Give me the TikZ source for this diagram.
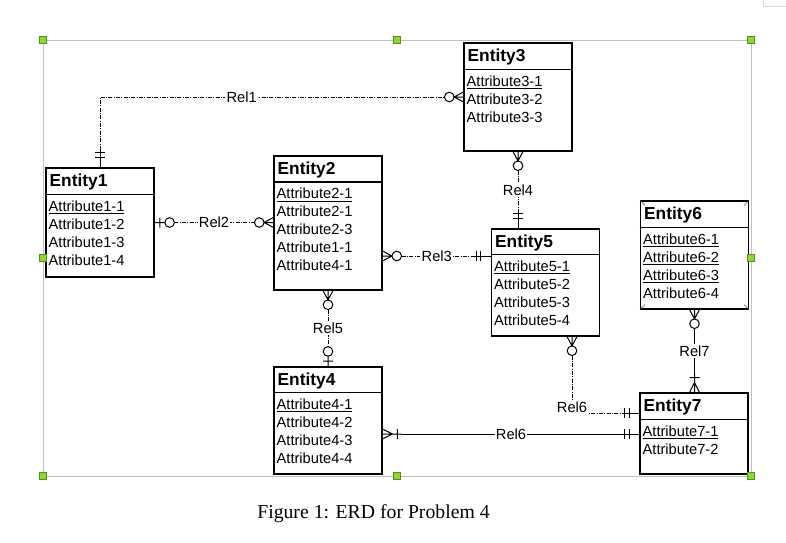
\documentclass[tikz,border=0pt]{standalone}
\usepackage{fontspec}
\setmainfont{Liberation Serif}
\setsansfont{Liberation Sans}
\usetikzlibrary{positioning,calc}
\definecolor{framegray}{RGB}{192,192,192}
\definecolor{handlefill}{RGB}{140,214,60}
\definecolor{handledraw}{RGB}{80,150,20}

% crow's foot end marks
\pgfdeclarearrow{
  name = zeromany,
  setup code = {
    \pgfarrowssettipend{0pt}
    \pgfarrowssetlineend{-14.2pt}
    \pgfarrowssetbackend{-14.2pt}
    \pgfarrowssetvisualbackend{-14.2pt}
    \pgfarrowsupperhullpoint{0pt}{3.75pt}
    \pgfarrowsupperhullpoint{-14.2pt}{3.6pt}
  },
  drawing code = {
    \pgfsetdash{}{0pt}\pgfsetroundjoin
    \pgfpathmoveto{\pgfqpoint{0pt}{3.75pt}}
    \pgfpathlineto{\pgfqpoint{-7pt}{0pt}}
    \pgfpathlineto{\pgfqpoint{0pt}{-3.75pt}}
    \pgfpathmoveto{\pgfqpoint{0pt}{0pt}}
    \pgfpathlineto{\pgfqpoint{-7pt}{0pt}}
    \pgfpathcircle{\pgfqpoint{-10.6pt}{0pt}}{3.6pt}
    \pgfusepathqstroke
  }
}
\pgfdeclarearrow{
  name = zeroone,
  setup code = {
    \pgfarrowssettipend{0pt}
    \pgfarrowssetlineend{-14.85pt}
    \pgfarrowssetbackend{-14.85pt}
    \pgfarrowssetvisualbackend{-14.85pt}
    \pgfarrowsupperhullpoint{0pt}{3.75pt}
    \pgfarrowsupperhullpoint{-14.85pt}{3.6pt}
  },
  drawing code = {
    \pgfsetdash{}{0pt}
    \pgfpathmoveto{\pgfqpoint{-4pt}{3.75pt}}
    \pgfpathlineto{\pgfqpoint{-4pt}{-3.75pt}}
    \pgfpathmoveto{\pgfqpoint{0pt}{0pt}}
    \pgfpathlineto{\pgfqpoint{-7.65pt}{0pt}}
    \pgfpathcircle{\pgfqpoint{-11.25pt}{0pt}}{3.6pt}
    \pgfusepathqstroke
  }
}
\pgfdeclarearrow{
  name = onlyone,
  setup code = {
    \pgfarrowssettipend{0pt}
    \pgfarrowssetlineend{-13pt}
    \pgfarrowssetbackend{-13pt}
    \pgfarrowssetvisualbackend{-13pt}
    \pgfarrowsupperhullpoint{0pt}{3.75pt}
    \pgfarrowsupperhullpoint{-13pt}{3.75pt}
  },
  drawing code = {
    \pgfsetdash{}{0pt}
    \pgfpathmoveto{\pgfqpoint{-7.5pt}{3.75pt}}
    \pgfpathlineto{\pgfqpoint{-7.5pt}{-3.75pt}}
    \pgfpathmoveto{\pgfqpoint{-10.9pt}{3.75pt}}
    \pgfpathlineto{\pgfqpoint{-10.9pt}{-3.75pt}}
    \pgfpathmoveto{\pgfqpoint{0pt}{0pt}}
    \pgfpathlineto{\pgfqpoint{-13pt}{0pt}}
    \pgfusepathqstroke
  }
}
\pgfdeclarearrow{
  name = onemany,
  setup code = {
    \pgfarrowssettipend{0pt}
    \pgfarrowssetlineend{-14pt}
    \pgfarrowssetbackend{-14pt}
    \pgfarrowssetvisualbackend{-14pt}
    \pgfarrowsupperhullpoint{0pt}{3.75pt}
    \pgfarrowsupperhullpoint{-14pt}{3.75pt}
  },
  drawing code = {
    \pgfsetdash{}{0pt}\pgfsetroundjoin
    \pgfpathmoveto{\pgfqpoint{0pt}{3.75pt}}
    \pgfpathlineto{\pgfqpoint{-7.5pt}{0pt}}
    \pgfpathlineto{\pgfqpoint{0pt}{-3.75pt}}
    \pgfpathmoveto{\pgfqpoint{-11pt}{3.75pt}}
    \pgfpathlineto{\pgfqpoint{-11pt}{-3.75pt}}
    \pgfpathmoveto{\pgfqpoint{0pt}{0pt}}
    \pgfpathlineto{\pgfqpoint{-14pt}{0pt}}
    \pgfusepathqstroke
  }
}

\tikzset{
  entbox/.style={draw, line width=0.9pt, minimum width=81pt, inner sep=0pt},
  headline/.style={line width=0.9pt},
  enttitle/.style={anchor=base west, inner sep=0pt, font=\sffamily\bfseries\fontsize{13}{15}\selectfont},
  entattr/.style={anchor=base west, inner sep=0pt, font=\sffamily\fontsize{11}{13}\selectfont},
  relline/.style={line width=0.75pt, dash pattern=on 3pt off 1pt on 0.75pt off 1pt},
  solidrel/.style={line width=0.75pt},
  rellabel/.style={fill=white, inner sep=1pt, font=\sffamily\fontsize{11}{13}\selectfont},
  handle/.style={draw=handledraw, fill=handlefill, line width=0.5pt, minimum size=5.25pt, inner sep=0pt},
  bevel/.style={draw=black!70, line width=0.5pt}
}

\begin{document}
\begin{tikzpicture}[x=0.75pt, y=-0.75pt]
    \fill[white] (0,0) rectangle (786,543);
    \useasboundingbox (0,0) rectangle (786,543);

    % selection frame and page mark
    \draw[framegray, line width=0.75pt] (43,40) rectangle (751,476);
    \draw[black!15, line width=0.75pt] (763,0) -- (763,6) -- (786,6);

    % Entity1
    \node[entbox, minimum height=81.75pt] (e1) at (100,222.5) {};
    \node[enttitle] (e1t) at ($(e1.north west)+(4,19)$) {Entity1};
    \draw[headline] ($(e1.north west)+(0,27)$) -- ($(e1.north east)+(0,27)$);
    \foreach \a [count=\i] in {\underline{Attribute1-1}, Attribute1-2, Attribute1-3, Attribute1-4}
        \node[entattr] (e1a\i) at ($(e1.north west)+(3,26+18*\i)$) {\a};

    % Entity2
    \node[entbox, minimum height=100.5pt] (e2) at (328,223) {};
    \node[enttitle] (e2t) at ($(e2.north west)+(4,19)$) {Entity2};
    \draw[headline] ($(e2.north west)+(0,26.5)$) -- ($(e2.north east)+(0,26.5)$);
    \foreach \a [count=\i] in {\underline{Attribute2-1}, Attribute2-1, Attribute2-3, Attribute1-1, Attribute4-1}
        \node[entattr] (e2a\i) at ($(e2.north west)+(3,25.5+18*\i)$) {\a};

    % Entity3
    \node[entbox, minimum height=81pt] (e3) at (518,97) {};
    \node[enttitle] (e3t) at ($(e3.north west)+(4,19)$) {Entity3};
    \draw[headline] ($(e3.north west)+(0,27)$) -- ($(e3.north east)+(0,27)$);
    \foreach \a [count=\i] in {\underline{Attribute3-1}, Attribute3-2, Attribute3-3}
        \node[entattr] (e3a\i) at ($(e3.north west)+(3,26+18*\i)$) {\a};

    % Entity5
    \node[entbox, minimum height=80.25pt] (e5) at (545.5,282.5) {};
    \node[enttitle] (e5t) at ($(e5.north west)+(4,19)$) {Entity5};
    \draw[headline] ($(e5.north west)+(0,26)$) -- ($(e5.north east)+(0,26)$);
    \foreach \a [count=\i] in {\underline{Attribute5-1}, Attribute5-2, Attribute5-3, Attribute5-4}
        \node[entattr] (e5a\i) at ($(e5.north west)+(3,25+18*\i)$) {\a};

    % Entity6
    \node[entbox, minimum height=81pt] (e6) at (694.5,255) {};
    \node[enttitle] (e6t) at ($(e6.north west)+(4,19)$) {Entity6};
    \draw[headline] ($(e6.north west)+(0,27)$) -- ($(e6.north east)+(0,27)$);
    \foreach \a [count=\i] in {\underline{Attribute6-1}, \underline{Attribute6-2}, \underline{Attribute6-3}, Attribute6-4}
        \node[entattr] (e6a\i) at ($(e6.north west)+(3,26+18*\i)$) {\a};
    \foreach \c/\dx/\dy in {north west/5/5, north east/-5/5, south west/5/-5, south east/-5/-5}
        \draw[bevel] (e6.\c) -- ++(\dx,\dy);

    % Entity4
    \node[entbox, minimum height=80.25pt] (e4) at (328,420.5) {};
    \node[enttitle] (e4t) at ($(e4.north west)+(4,19)$) {Entity4};
    \draw[headline] ($(e4.north west)+(0,26)$) -- ($(e4.north east)+(0,26)$);
    \foreach \a [count=\i] in {\underline{Attribute4-1}, Attribute4-2, Attribute4-3, Attribute4-4}
        \node[entattr] (e4a\i) at ($(e4.north west)+(3,25+18*\i)$) {\a};

    % Entity7
    \node[entbox, minimum height=60.75pt] (e7) at (694,433.5) {};
    \node[enttitle] (e7t) at ($(e7.north west)+(4,19)$) {Entity7};
    \draw[headline] ($(e7.north west)+(0,27)$) -- ($(e7.north east)+(0,27)$);
    \foreach \a [count=\i] in {\underline{Attribute7-1}, Attribute7-2}
        \node[entattr] (e7a\i) at ($(e7.north west)+(3,26+18*\i)$) {\a};

    % Relationships
    \draw[relline, {onlyone}-{zeromany}] (e1.north) |- (e3.west)
        node[rellabel, pos=0.695] (r1) {Rel1};
    \draw[relline, {zeroone}-{zeromany}] (e1.east) -- (e1.east -| e2.west)
        node[rellabel, midway] (r2) {Rel2};
    \draw[relline, {zeromany}-{onlyone}] (e2.east |- 0,256) -- (e5.west |- 0,256)
        node[rellabel, midway] (r3) {Rel3};
    \draw[relline, {zeromany}-{onlyone}] (e3.south) -- (e3.south |- e5.north)
        node[rellabel, midway] (r4) {Rel4};
    \draw[relline, {zeromany}-{zeroone}] (e2.south) -- (e4.north)
        node[rellabel, midway] (r5) {Rel5};
    \draw[relline, {zeromany}-{onlyone}] (572,0 |- e5.south) |- (e7.west |- 0,413)
        node[rellabel, pos=0.5, yshift=4pt] (r6a) {Rel6};
    \draw[solidrel, {onemany}-{onlyone}] (e4.east |- 0,434) -- (e7.west |- 0,434)
        node[rellabel, midway] (r6b) {Rel6};
    \draw[solidrel, {zeromany}-{onemany}] (e6.south) -- (e6.south |- e7.north)
        node[rellabel, midway] (r7) {Rel7};

    % frame handles
    \foreach \hx/\hy [count=\k] in {43/40, 397/40, 751/40, 43/258, 751/258, 43/476, 397/476, 751/476}
        \node[handle] (h\k) at (\hx,\hy) {};

    % caption
    \node[anchor=base, inner sep=0pt, font=\fontsize{14.8}{17}\selectfont] (cap) at (373.5,518) {Figure 1: ERD for Problem 4};
\end{tikzpicture}
\end{document}
